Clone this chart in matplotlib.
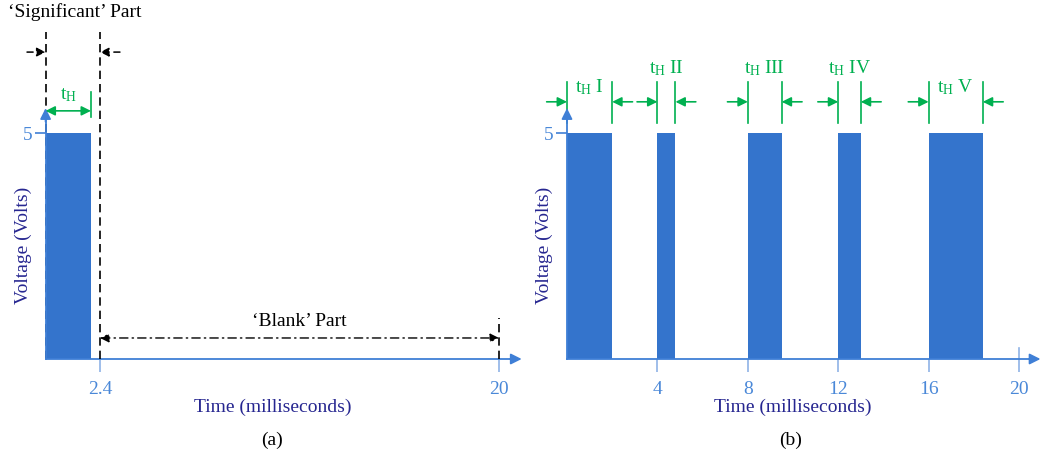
import matplotlib.pyplot as plt

plt.rcParams['font.family'] = ['Liberation Serif', 'DejaVu Serif']
plt.rcParams['mathtext.fontset'] = 'custom'
plt.rcParams['mathtext.rm'] = 'Liberation Serif'

# panel (a): one pulse, then blank
a_start = [0.0]
a_width = [2.0]
a_signif_end = 2.4
a_period = 20
a_xticks = [2.4, 20]
a_xticklabels = ['2.4', '20']

# panel (b): five pulses of different length
b_start = [0, 4, 8, 12, 16]
b_width = [2.0, 0.8, 1.5, 1.0, 2.4]
b_names = ['I', 'II', 'III', 'IV', 'V']
b_xticks = [4, 8, 12, 16, 20]
b_xticklabels = ['4', '8', '12', '16', '20']

high = 5

bar_c = '#3474cc'
axis_c = '#3f7fd6'
tick_c = '#8fb3e6'
label_c = '#4a88d8'
navy = '#262690'
green = '#00b050'
fs = 14

fig = plt.figure(figsize=(10.42, 4.53), dpi=100)
W, H = 1042, 453


def make_axes(px0, px1, x0_px, scale):
    # axes in pixel space, data 0 at x0_px, y=0 at 359 px from top
    ax = fig.add_axes([px0 / W, 0, (px1 - px0) / W, 1])
    ax.set_xlim((px0 - x0_px) / scale, (px1 - x0_px) / scale)
    ax.set_ylim((359 - H) / 45.2, 359 / 45.2)
    for s in ['top', 'right']:
        ax.spines[s].set_visible(False)
    ax.spines['bottom'].set_position(('data', 0))
    ax.spines['left'].set_position(('data', 0))
    ax.spines['bottom'].set_color(axis_c)
    ax.spines['left'].set_color(axis_c)
    ax.spines['bottom'].set_linewidth(1.3)
    ax.spines['left'].set_linewidth(1.3)
    ax.patch.set_alpha(0)
    ax.tick_params(axis='x', direction='out', length=9.4, width=1.2, color=tick_c,
                   labelcolor=label_c, labelsize=fs, pad=6.5)
    ax.tick_params(axis='y', direction='out', length=8, width=1.2, color=axis_c,
                   labelcolor=label_c, labelsize=fs, pad=1.5)
    ax.set_yticks([high])
    ax.set_yticklabels([str(high)])
    return ax


def axis_arrows(ax, xtip, ytip):
    ax.spines['bottom'].set_bounds(0, xtip - 0.2)
    ax.spines['left'].set_bounds(0, ytip - 0.1)
    ap = dict(arrowstyle='-|>', color=axis_c, lw=1.3, mutation_scale=16, shrinkA=0, shrinkB=0)
    ax.annotate('', xy=(xtip, 0), xytext=(xtip - 0.5, 0), arrowprops=ap, annotation_clip=False)
    ax.annotate('', xy=(0, ytip), xytext=(0, ytip - 0.3), arrowprops=ap, annotation_clip=False)


def green_arrow(ax, x_from, x_to, y):
    ax.annotate('', xy=(x_to, y), xytext=(x_from, y),
                arrowprops=dict(arrowstyle='-|>', color=green, lw=1.2, mutation_scale=14,
                                shrinkA=0, shrinkB=0))


# ---------------- panel (a)
ax = make_axes(0, 530, 45.6, 22.67)
ax.bar(a_start, [high] * len(a_start), width=a_width, align='edge', color=bar_c, zorder=1)
ax.set_xticks(a_xticks)
ax.set_xticklabels(a_xticklabels)
axis_arrows(ax, 21.0, 5.55)

# 'Significant' part markers
ax.plot([0, 0], [0, 7.23], color='black', ls=(0, (5, 3)), lw=1.2, zorder=0)
ax.plot([a_signif_end, a_signif_end], [0, 7.23], color='black', ls=(0, (5, 3)), lw=1.2, zorder=3)
ax.annotate('', xy=(0, 6.79), xytext=(-0.82, 6.79),
            arrowprops=dict(arrowstyle='-|>', color='black', lw=1.1, ls=(0, (4, 3)),
                            mutation_scale=13, shrinkA=0, shrinkB=0), annotation_clip=False)
ax.annotate('', xy=(a_signif_end, 6.79), xytext=(a_signif_end + 0.88, 6.79),
            arrowprops=dict(arrowstyle='-|>', color='black', lw=1.1, ls=(0, (4, 3)),
                            mutation_scale=13, shrinkA=0, shrinkB=0))
ax.text(1.3, 7.68, '\u2018Significant\u2019 Part', fontsize=fs, ha='center', va='center')

# t_H of panel (a)
ax.plot([a_width[0], a_width[0]], [5.35, 5.91], color=green, lw=1.2)
ax.annotate('', xy=(0, 5.49), xytext=(a_width[0], 5.49),
            arrowprops=dict(arrowstyle='<|-|>', color=green, lw=1.2, mutation_scale=14,
                            shrinkA=0, shrinkB=0))
ax.text(a_width[0] / 2, 5.83, r'$\mathrm{t_H}$', color=green, fontsize=fs,
        ha='center', va='center')

# 'Blank' part
ax.plot([a_period, a_period], [0, 0.91], color='black', ls=(0, (5, 3)), lw=1.2, zorder=3)
ax.annotate('', xy=(a_period, 0.465), xytext=(a_signif_end, 0.465),
            arrowprops=dict(arrowstyle='<|-|>', color='black', lw=1.0, ls=(0, (6, 3, 1, 3)),
                            mutation_scale=13, shrinkA=0, shrinkB=0))
ax.text(11.2, 0.84, '\u2018Blank\u2019 Part', fontsize=fs, ha='center', va='center')

ax.text(-1.0, 2.52, 'Voltage (Volts)', color=navy, fontsize=fs, rotation=90,
        ha='center', va='center')
ax.text(10.0, -1.08, 'Time (milliseconds)', color=navy, fontsize=fs, ha='center', va='center')
ax.text(10.0, -1.79, '(a)', fontsize=fs, ha='center', va='center')

# ---------------- panel (b)
bx = make_axes(535, 1042, 567, 22.6)
bx.bar(b_start, [high] * len(b_start), width=b_width, align='edge', color=bar_c, zorder=1)
bx.set_xticks(b_xticks)
bx.set_xticklabels(b_xticklabels)
axis_arrows(bx, 20.95, 5.55)
bx.plot([20, 20], [0, 0.24], color=tick_c, lw=1.2)

for s, w, name in zip(b_start, b_width, b_names):
    e = s + w
    for xe in (s, e):
        bx.plot([xe, xe], [5.22, 6.13], color=green, lw=1.2)
    green_arrow(bx, s - 0.9, s, 5.69)
    green_arrow(bx, e + 0.9, e, 5.69)
    # wide pulses carry the label between the edges, narrow ones above
    ylab = 6.02 if w >= 2 else 6.44
    bx.text(s + w / 2, ylab, r'$\mathrm{t_H}$ ' + name,
            color=green, fontsize=fs, ha='center', va='center')

bx.text(-1.0, 2.52, 'Voltage (Volts)', color=navy, fontsize=fs, rotation=90,
        ha='center', va='center')
bx.text(10.0, -1.08, 'Time (milliseconds)', color=navy, fontsize=fs, ha='center', va='center')
bx.text(9.9, -1.79, '(b)', fontsize=fs, ha='center', va='center')

fig.savefig('out.png', dpi=100)
